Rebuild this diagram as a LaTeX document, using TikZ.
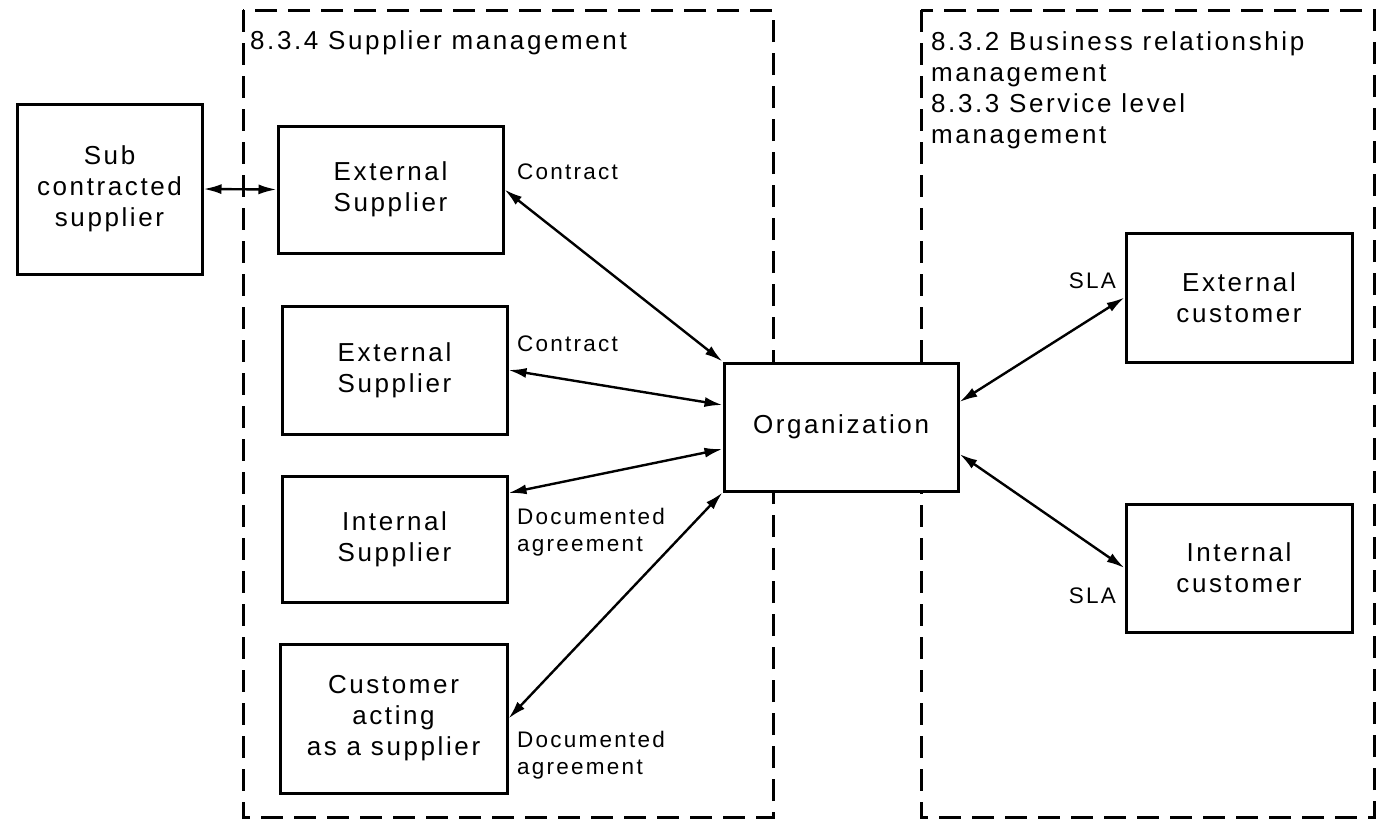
\documentclass[tikz,border=0pt]{standalone}
\usepackage{fontspec}
\setmainfont{Liberation Sans}[LetterSpace=10]
\usetikzlibrary{arrows.meta}
\tikzset{
  box/.style={draw=black, line width=3pt, fill=white, rectangle, inner sep=0pt,
    align=center, font=\fontsize{26}{31}\selectfont},
  lbl/.style={inner sep=0pt, align=left, font=\fontsize{22.5}{26.5}\selectfont},
  ttl/.style={inner sep=0pt, align=left, font=\fontsize{26}{31}\selectfont},
  dashbox/.style={draw=black, line width=3pt, dash pattern=on 22pt off 11pt},
  link/.style={line width=2.4pt, {Latex[length=18pt,width=10pt]}-{Latex[length=18pt,width=10pt]}},
}
\begin{document}
\begin{tikzpicture}[x=1pt,y=-1pt]
\useasboundingbox (0,0) rectangle (1378,820);
% dashed areas
\draw[dashbox] (243,10) rectangle (773,817);
\draw[dashbox] (921,10) rectangle (1374,817);
\node[ttl, anchor=west] (t1) at (250,43) {8.3.4 Supplier management};
\node[ttl, anchor=west] (t2) at (931,90) {8.3.2 Business relationship\\management\\8.3.3 Service level\\management};
% boxes
\node[box, minimum width=185, minimum height=170] (sub) at (109.5,189) {\raisebox{4pt}{\begin{tabular}{@{}c@{}}Sub\\contracted\\supplier\end{tabular}}};
\node[box, minimum width=225, minimum height=127] (ext1) at (390.5,189.5) {External\\Supplier};
\node[box, minimum width=225, minimum height=128] (ext2) at (394.5,370) {External\\Supplier};
\node[box, minimum width=225, minimum height=126] (intsup) at (394.5,539) {Internal\\Supplier};
\node[box, minimum width=227, minimum height=149] (cust) at (393.5,718.5) {\raisebox{4pt}{\begin{tabular}{@{}c@{}}Customer\\acting\\as a supplier\end{tabular}}};
\node[box, minimum width=234, minimum height=128] (org) at (841,427) {Organization};
\node[box, minimum width=226, minimum height=129] (extc) at (1239,297.5) {External\\customer};
\node[box, minimum width=226, minimum height=128] (intc) at (1239,568) {Internal\\customer};
% connectors
\draw[link] (sub.east) -- (ext1.west);
\draw[link] (ext1.east) -- (org.north west);
\draw[link] (ext2.east) -- ([yshift=22pt]org.west);
\draw[link] ([yshift=46pt]intsup.east) -- ([yshift=-22pt]org.west);
\draw[link] (cust.east) -- (org.south west);
\draw[link] ([yshift=25pt]org.east) -- (extc.west);
\draw[link] ([yshift=-27pt]org.east) -- (intc.west);
% labels
\node[lbl, anchor=west] (l1) at (517,172) {Contract};
\node[lbl, anchor=west] (l2) at (517,344) {Contract};
\node[lbl, anchor=west] (l3) at (517,532) {Documented\\agreement};
\node[lbl, anchor=west] (l4) at (517,755) {Documented\\agreement};
\node[lbl, anchor=east] (l5) at (1116,281) {SLA};
\node[lbl, anchor=east] (l6) at (1116,596) {SLA};
\end{tikzpicture}
\end{document}
